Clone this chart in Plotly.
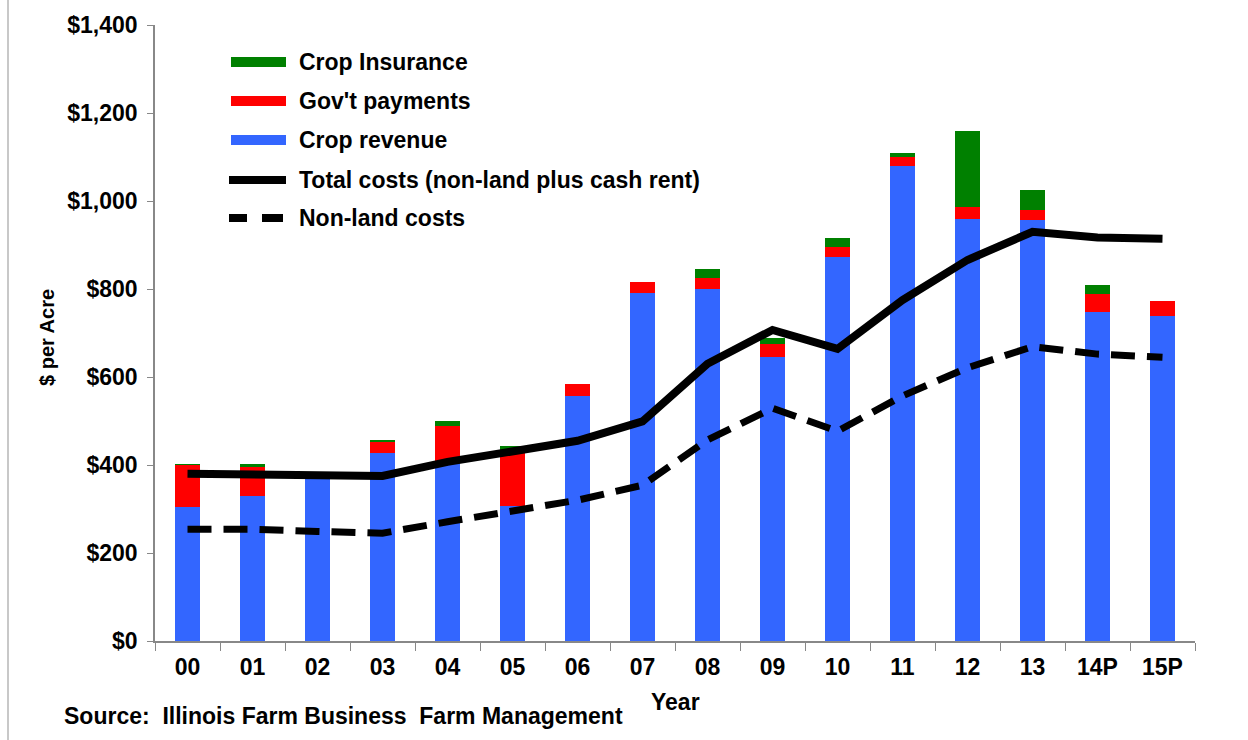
import plotly.graph_objects as go

years = ["00", "01", "02", "03", "04", "05", "06", "07", "08", "09", "10", "11", "12", "13", "14P", "15P"]
crop_revenue = [305, 330, 372, 428, 405, 307, 557, 792, 799, 645, 872, 1080, 960, 957, 747, 739]
govt_payments = [95, 66, 0, 25, 84, 128, 28, 24, 25, 29, 24, 21, 27, 23, 41, 34]
crop_insurance = [2, 7, 0, 2, 12, 8, 0, 0, 21, 15, 19, 7, 173, 46, 21, 0]
total_costs = [380, 378, 376, 375, 407, 430, 455, 499, 630, 707, 664, 775, 866, 930, 917, 914]
nonland_costs = [254, 254, 249, 245, 271, 294, 320, 354, 457, 529, 477, 557, 621, 669, 652, 645]
y_ticks = [0, 200, 400, 600, 800, 1000, 1200, 1400]
y_tick_text = ["$0", "$200", "$400", "$600", "$800", "$1,000", "$1,200", "$1,400"]

BLUE = "#3366FF"
RED = "#FF0000"
GREEN = "#008000"
FONT = "Liberation Sans"
FS = 23

W, H = 1248, 740
ML, MR, MT, MB = 155, 53, 25, 99
PW, PH = W - ML - MR, H - MT - MB


def px(x):
    return (x - ML) / PW


def py(y):
    return (H - MB - y) / PH


fig = go.Figure()
fig.add_bar(x=years, y=crop_revenue, marker_color=BLUE, marker_line_width=0, name="Crop revenue", showlegend=False)
fig.add_bar(x=years, y=govt_payments, marker_color=RED, marker_line_width=0, name="Gov't payments", showlegend=False)
fig.add_bar(x=years, y=crop_insurance, marker_color=GREEN, marker_line_width=0, name="Crop Insurance", showlegend=False)
fig.add_scatter(x=years, y=total_costs, mode="lines", line=dict(color="black", width=8),
                name="Total costs (non-land plus cash rent)", showlegend=False)
fig.add_scatter(x=years, y=nonland_costs, mode="lines", line=dict(color="black", width=7, dash="24px,12px"),
                name="Non-land costs", showlegend=False)

fig.update_layout(
    width=W, height=H,
    margin=dict(l=ML, r=MR, t=MT, b=MB),
    barmode="stack", bargap=0.63,
    plot_bgcolor="white", paper_bgcolor="white",
    font=dict(family=FONT, size=FS, color="black", weight="bold"),
)
fig.update_xaxes(
    type="category", showgrid=False, showline=True, linecolor="#888888", linewidth=1.5,
    ticks="outside", tickson="boundaries", ticklen=8, tickcolor="#888888",
    ticklabelstandoff=5,
    tickfont=dict(family=FONT, size=FS, color="black", weight="bold"),
)
fig.update_yaxes(
    range=[0, 1400], tickvals=y_ticks, ticktext=y_tick_text, showgrid=False,
    showline=True, linecolor="#888888", linewidth=1.5, ticks="outside", ticklen=6,
    tickcolor="#888888", ticklabelstandoff=5, zeroline=False,
    tickfont=dict(family=FONT, size=FS, color="black", weight="bold"),
)

shapes = []
annotations = []
# custom legend
legend_items = [
    ("Crop Insurance", "patch", GREEN, 62),
    ("Gov't payments", "patch", RED, 101),
    ("Crop revenue", "patch", BLUE, 140),
    ("Total costs (non-land plus cash rent)", "solid", "black", 180),
    ("Non-land costs", "dash", "black", 218),
]
for label, kind, color, yc in legend_items:
    if kind == "patch":
        shapes.append(dict(type="rect", xref="paper", yref="paper", x0=px(231), x1=px(286),
                           y0=py(yc + 5), y1=py(yc - 5), fillcolor=color, line_width=0))
    elif kind == "solid":
        shapes.append(dict(type="line", xref="paper", yref="paper", x0=px(229), x1=px(286),
                           y0=py(yc), y1=py(yc), line=dict(color=color, width=8)))
    else:
        for a, b in [(229, 247), (262, 283)]:
            shapes.append(dict(type="line", xref="paper", yref="paper", x0=px(a), x1=px(b),
                               y0=py(yc), y1=py(yc), line=dict(color=color, width=8)))
    annotations.append(dict(text=label, xref="paper", yref="paper", x=px(297), y=py(yc),
                            xanchor="left", yanchor="middle", showarrow=False,
                            font=dict(family=FONT, size=FS, color="black", weight="bold")))

annotations.append(dict(text="$ per Acre", xref="paper", yref="paper", x=px(47), y=py(338),
                        textangle=-90, xanchor="center", yanchor="middle", showarrow=False,
                        font=dict(family=FONT, size=20, color="black", weight="bold")))
annotations.append(dict(text="Year", xref="paper", yref="paper", x=px(675), y=py(702),
                        xanchor="center", yanchor="middle", showarrow=False,
                        font=dict(family=FONT, size=FS, color="black", weight="bold")))
annotations.append(dict(text="Source:  Illinois Farm Business  Farm Management", xref="paper", yref="paper",
                        x=px(62), y=py(716), xanchor="left", yanchor="middle", showarrow=False,
                        font=dict(family=FONT, size=FS, color="black", weight="bold")))
# left frame line
shapes.append(dict(type="line", xref="paper", yref="paper", x0=px(8), x1=px(8), y0=py(0), y1=py(740),
                   line=dict(color="#c8c8c8", width=2)))

fig.update_layout(shapes=shapes, annotations=annotations)
fig.write_html("out.html")
